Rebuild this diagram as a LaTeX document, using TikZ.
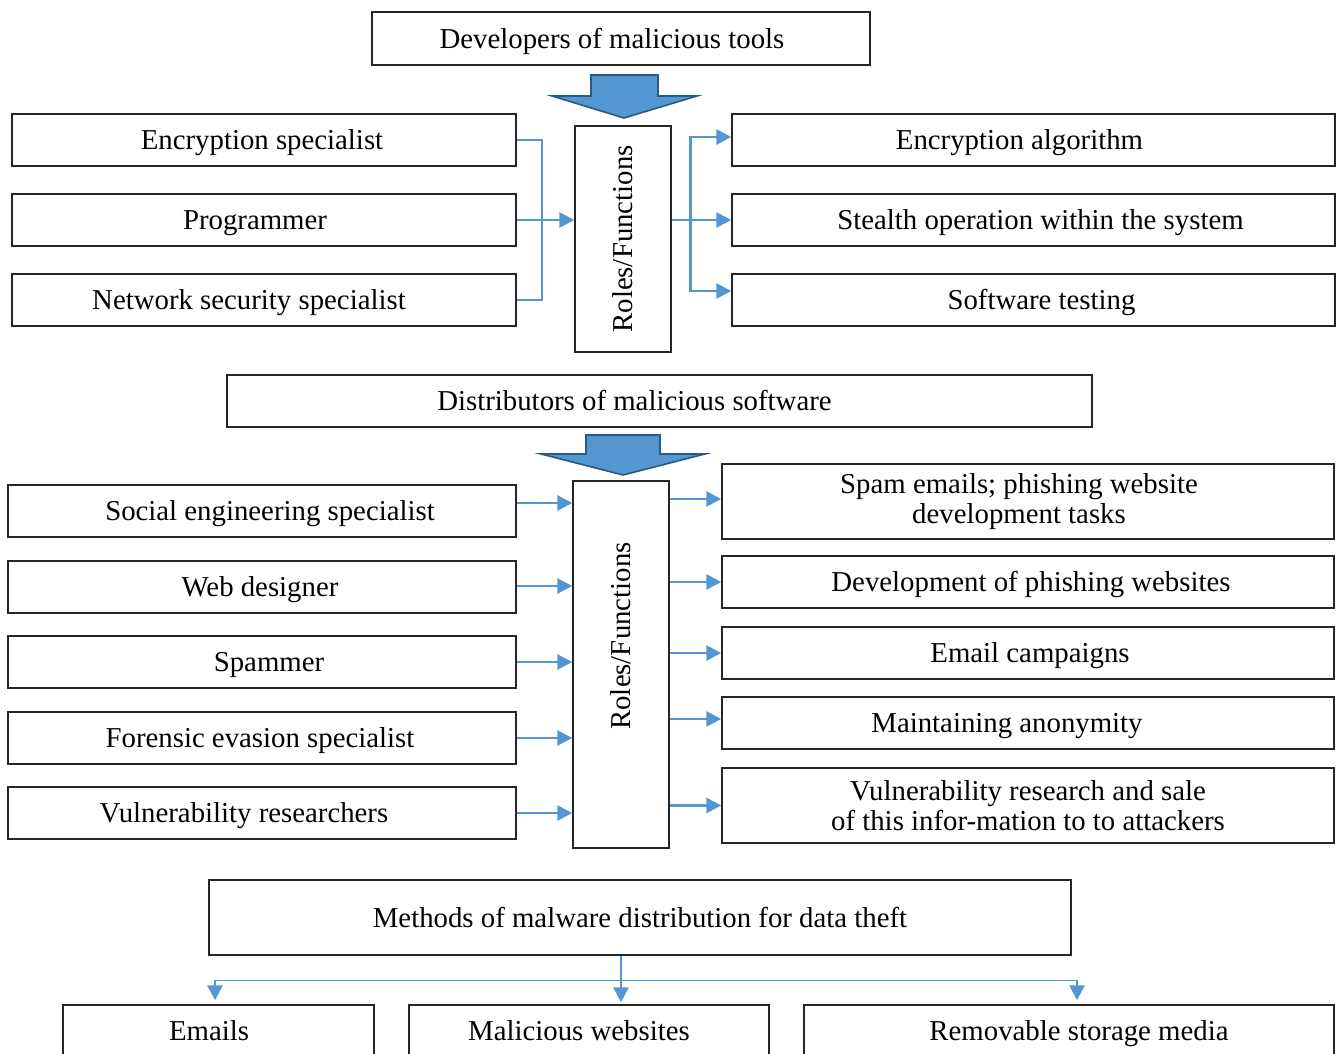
\documentclass[tikz,border=0pt]{standalone}
\usepackage{fontspec}
\setmainfont{Liberation Serif}
\usetikzlibrary{arrows.meta,calc}
\definecolor{arr}{RGB}{84,150,210}
\definecolor{bigfill}{RGB}{83,150,208}
\definecolor{bigline}{RGB}{40,90,135}
\newcommand\mybox[8][oneline]{\node[box,#1,minimum width={#5-#3},minimum height={#6-#4}] (#2) at ({(#3+#5)/2},{(#4+#6)/2}) {\hspace*{#7pt}#8};}
\begin{document}
\begin{tikzpicture}[x=1pt,y=-1pt,
  box/.style={draw=black!85,line width=1.4pt,inner sep=0pt,align=center,font=\fontsize{28.8}{29.5}\selectfont},
  oneline/.style={text height=19.5pt,text depth=0pt},
  twoline/.style={},
  rolestext/.style={rotate=90,inner sep=0pt,font=\fontsize{28.8}{29.5}\selectfont},
  conn/.style={draw=arr,line width=2.8pt,-{Triangle[length=15pt,width=15pt]}},
  thinline/.style={draw=arr,line width=1.6pt},
  bigarrow/.style={fill=bigfill,draw=bigline,line width=1.6pt,line join=miter}]
\useasboundingbox (0,0) rectangle (1336,1054);

% ---------- Block 1 ----------
\mybox{dev}{372}{12}{870}{65}{-18}{Developers of malicious tools}
\draw[bigarrow] (591,75) -- (658,75) -- (658,96) -- (697,96) -- (624,118) -- (552,96) -- (591,96) -- cycle;

\mybox{es}{12}{114}{516}{166}{-4}{Encryption specialist}
\mybox{pr}{12}{194}{516}{246}{-18}{Programmer}
\mybox{ns}{12}{274}{516}{326}{-30}{Network security specialist}

\node[box,minimum width=96,minimum height=226] (r1) at (623,239) {};
\node[rolestext] (r1t) at (623,239) {Roles/Functions};

\mybox{ea}{732}{114}{1335}{166}{-28}{Encryption algorithm}
\mybox{so}{732}{194}{1335}{246}{14}{Stealth operation within the system}
\mybox{st}{732}{274}{1335}{326}{16}{Software testing}

\draw[thinline] (es.east) -- ++(25,0) |- (ns.east);
\draw[conn] (pr.east) -- (pr.east -| r1.west);
\draw[conn] (r1.east |- so.west) -- (so.west);
\coordinate (v1) at ($(r1.east |- so.west)+(19,0)$);
\draw[conn] (v1) |- ([yshift=3pt]ea.west);
\draw[conn] (v1) |- ([yshift=9pt]st.west);

% ---------- Block 2 ----------
\mybox{dist}{227}{375}{1092}{427}{-50}{Distributors of malicious software}
\draw[bigarrow] (586,435) -- (660,435) -- (660,454) -- (705,454) -- (623,475) -- (541,454) -- (586,454) -- cycle;

\mybox{sp}{8}{485}{516}{537}{16}{Social engineering specialist}
\mybox{wd}{8}{561}{516}{613}{-4}{Web designer}
\mybox{spm}{8}{636}{516}{688}{14}{Spammer}
\mybox{fe}{8}{712}{516}{764}{-4}{Forensic evasion specialist}
\mybox{vr}{8}{787}{516}{839}{-36}{Vulnerability researchers}

\node[box,minimum width=96,minimum height=367] (r2) at (621,664.5) {};
\node[rolestext] (r2t) at (621,636) {Roles/Functions};

\mybox[twoline]{se}{722}{464}{1334}{539}{0}{\hspace*{-18pt}Spam emails; phishing website\\\hspace*{-18pt}development tasks}
\mybox{dp}{722}{556}{1334}{608}{6}{Development of phishing websites}
\mybox{ec}{722}{627}{1334}{679}{4}{Email campaigns}
\mybox{ma}{722}{697}{1334}{749}{-42}{Maintaining anonymity}
\mybox[twoline]{vrs}{722}{768}{1334}{843}{0}{Vulnerability research and sale\\of this infor-mation to to attackers}

\draw[conn] ([yshift=8pt]sp.east) -- ([yshift=8pt]sp.east -| r2.west);
\draw[conn] ([yshift=1pt]wd.east) -- ([yshift=1pt]wd.east -| r2.west);
\draw[conn] (spm.east) -- (spm.east -| r2.west);
\draw[conn] (fe.east) -- (fe.east -| r2.west);
\draw[conn] (vr.east) -- (vr.east -| r2.west);

\draw[conn] ([yshift=2.5pt]r2.east |- se.west) -- ([yshift=2.5pt]se.west);
\draw[conn] (r2.east |- dp.west) -- (dp.west);
\draw[conn] (r2.east |- ec.west) -- (ec.west);
\draw[conn] ([yshift=4pt]r2.east |- ma.west) -- ([yshift=4pt]ma.west);
\draw[conn] (r2.east |- vrs.west) -- (vrs.west);

% ---------- Block 3 ----------
\mybox{meth}{209}{880}{1071}{955}{0}{Methods of malware distribution for data theft}
\mybox{em}{63}{1005}{374}{1057}{-19}{Emails}
\mybox{mw}{409}{1005}{769}{1057}{-20}{Malicious websites}
\mybox{rs}{804}{1005}{1334}{1057}{20}{Removable storage media}

\coordinate (hl) at ($(em.north)+(-3.5,-24)$);
\coordinate (hr) at ($(rs.north)+(8,-24)$);
\draw[thinline] (hl) -- (hr);
\draw[conn,shorten >=2pt] ([xshift=-19pt]meth.south) -- ([xshift=32pt]mw.north);
\draw[conn,shorten >=4pt] (hl) -- ([xshift=-3.5pt]em.north);
\draw[conn,shorten >=4pt] (hr) -- ([xshift=8pt]rs.north);
\end{tikzpicture}
\end{document}
